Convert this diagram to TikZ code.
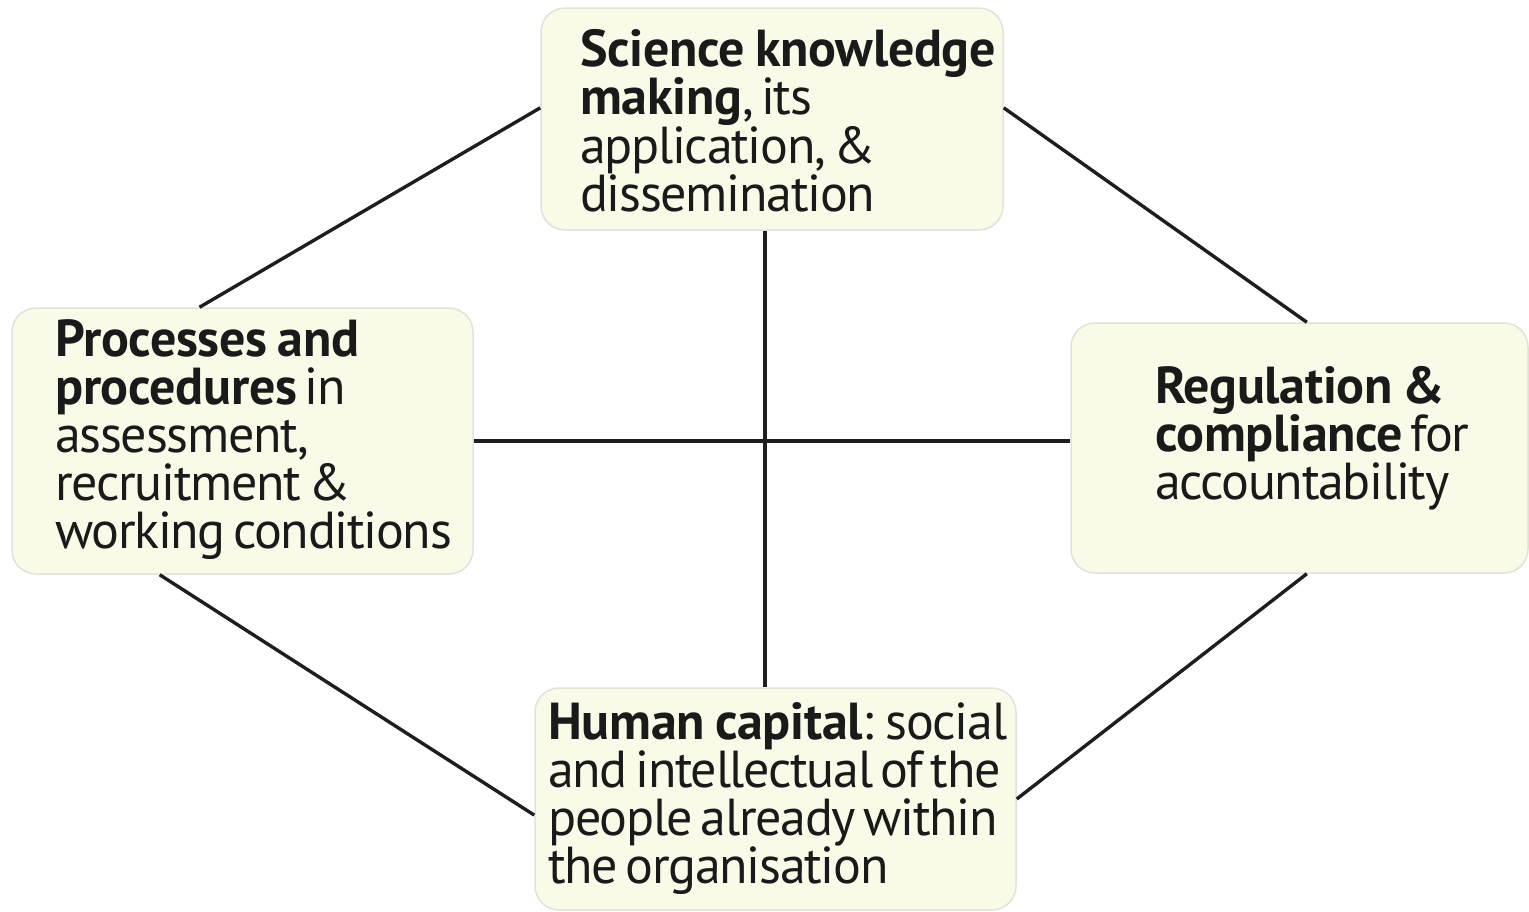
\documentclass[tikz,border=0pt]{standalone}
\usepackage{fontspec}
\setmainfont{PT Sans}[UprightFeatures={LetterSpace=-2.5, WordSpace=0.6},
  BoldFeatures={LetterSpace=-0.6, WordSpace=0.8}]
\usetikzlibrary{calc}
\definecolor{boxfill}{HTML}{FAFAE8}
\definecolor{boxedge}{HTML}{E2E2DA}
\definecolor{linkline}{HTML}{1E1E1E}
\definecolor{inktext}{HTML}{1A1A1A}

\begin{document}
\begin{tikzpicture}[
  x=1pt, y=-1pt,
  area/.style={rectangle, rounded corners=24pt, draw=boxedge, fill=boxfill,
               line width=1.5pt},
  lab/.style={anchor=west, inner sep=0pt, align=left, text=inktext,
              font=\fontsize{52}{48}\selectfont},
  link/.style={draw=linkline, line width=3.4pt},
]
\useasboundingbox (0,0) rectangle (1529,911);
% ---- the four areas
\node[area, minimum width=462pt, minimum height=222pt] (sci) at (772,119) {};
\node[area, minimum width=461pt, minimum height=266pt] (proc) at (242.5,441) {};
\node[area, minimum width=457pt, minimum height=250pt] (reg) at (1299.5,448) {};
\node[area, minimum width=481pt, minimum height=222pt] (hum) at (775.5,799) {};
% ---- labels
\node[lab] (sciText) at (580,121) {\textbf{Science knowledge}\\\textbf{making}, its\\application, \&\\dissemination};
\node[lab] (procText) at (55,440) {\textbf{Processes and}\\\textbf{procedures} in\\assessment,\\recruitment \&\\working conditions};
\node[lab] (regText) at (1155,438) {\textbf{Regulation \&}\\\textbf{compliance} for\\accountability};
\node[lab] (humText) at (548,799) {\textbf{Human capital}: social\\and intellectual of the\\people already within\\the organisation};
% ---- connections round the ring
\draw[link] ($(sci.north west)!0.45!(sci.south west)$) -- ($(proc.north west)!0.407!(proc.north east)$);
\draw[link] ($(sci.north east)!0.45!(sci.south east)$) -- ($(reg.north west)!0.516!(reg.north east)$);
\draw[link] ($(proc.south west)!0.321!(proc.south east)$) -- ($(hum.north west)!0.572!(hum.south west)$);
\draw[link] ($(reg.south west)!0.516!(reg.south east)$) -- (hum.east);
% ---- cross in the middle
\draw[link] (proc.east) -- (proc.east -| reg.west);
\draw[link] ($(sci.south west)!0.485!(sci.south east)$) coordinate (vtop) -- (vtop |- hum.north);
\end{tikzpicture}
\end{document}
